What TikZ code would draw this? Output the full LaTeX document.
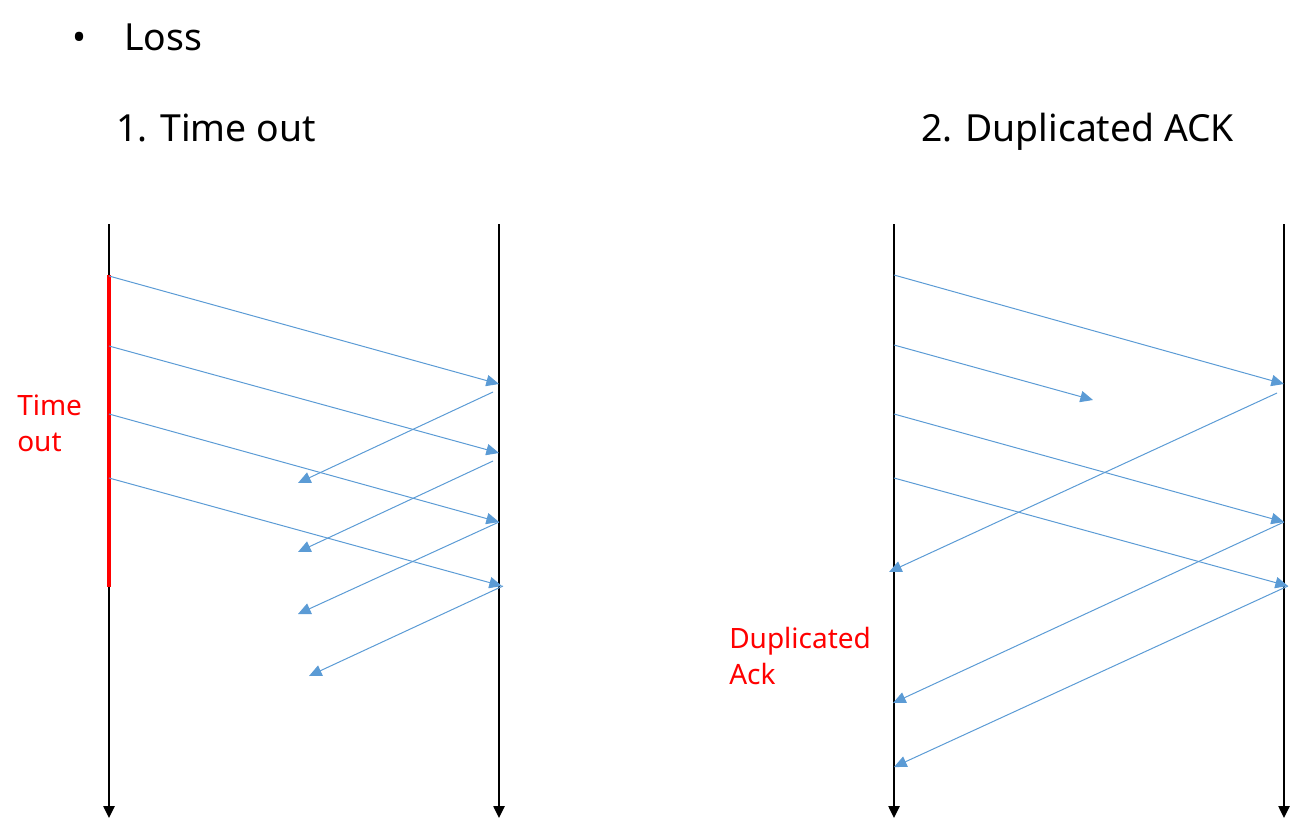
\documentclass[tikz,border=0pt]{standalone}
\usepackage{fontspec}
\setmainfont{Noto Sans}
\usetikzlibrary{arrows.meta}
\definecolor{msgblue}{HTML}{5B9BD5}
\definecolor{notered}{HTML}{FF0000}
\tikzset{
  timeline/.style={line width=1.1pt, black, -{Triangle[length=9pt,width=8.5pt]}},
  msg/.style={line width=0.75pt, msgblue, -{Triangle[length=9.5pt,width=8.5pt]}},
  title/.style={anchor=base west, inner sep=0pt, font=\fontsize{28pt}{34pt}\selectfont},
  note/.style={anchor=base west, inner sep=0pt, align=left, text=notered, font=\fontsize{21pt}{26.3pt}\selectfont},
}
\begin{document}
\begin{tikzpicture}[x=0.75pt, y=-0.75pt]
\useasboundingbox (0,0) rectangle (1298,832);
% titles
\node[title] (bullet) at (72,50) {•};
\node[title] (loss) at (124,50) {Loss};
\node[title] (t1) at (116,141) {1. Time out};
\node[title] (t2) at (921,141) {2. Duplicated ACK};
% left diagram timelines
\coordinate (LsTop) at (109,224); \coordinate (LsBot) at (109,818);
\coordinate (LrTop) at (499,224); \coordinate (LrBot) at (499,818);
\draw[timeline] (LsTop) -- (LsBot);
\draw[timeline] (LrTop) -- (LrBot);
% timeout bar
\coordinate (toA) at (109,275); \coordinate (toB) at (109,587);
\draw[notered, line width=3.6pt] (toA) -- (toB);
\node[note] (tolabel) at (17,451) {Time\\out};
% left forward
\coordinate (ls1) at (109,276); \coordinate (lr1) at (499,384);
\coordinate (ls2) at (109,346); \coordinate (lr2) at (499,453);
\coordinate (ls3) at (109,414); \coordinate (lr3) at (499,522);
\coordinate (ls4) at (109,478); \coordinate (lr4) at (502,586);
\draw[msg] (ls1) -- (lr1);
\draw[msg] (ls2) -- (lr2);
\draw[msg] (ls3) -- (lr3);
\draw[msg] (ls4) -- (lr4);
% left returns
\coordinate (la1) at (493,392); \coordinate (lb1) at (298,483);
\coordinate (la2) at (493,461); \coordinate (lb2) at (298,552);
\coordinate (la3) at (499,522); \coordinate (lb3) at (298,614);
\coordinate (la4) at (503,586); \coordinate (lb4) at (309,676);
\draw[msg] (la1) -- (lb1);
\draw[msg] (la2) -- (lb2);
\draw[msg] (la3) -- (lb3);
\draw[msg] (la4) -- (lb4);
% right diagram timelines
\coordinate (RsTop) at (894,224); \coordinate (RsBot) at (894,818);
\coordinate (RrTop) at (1284,224); \coordinate (RrBot) at (1284,818);
\draw[timeline] (RsTop) -- (RsBot);
\draw[timeline] (RrTop) -- (RrBot);
% right forward
\coordinate (rs1) at (894,275); \coordinate (rr1) at (1284,384);
\coordinate (rs2) at (894,345); \coordinate (rr2) at (1093,400);
\coordinate (rs3) at (894,414); \coordinate (rr3) at (1284,522);
\coordinate (rs4) at (894,478); \coordinate (rr4) at (1288,586);
\draw[msg] (rs1) -- (rr1);
\draw[msg] (rs2) -- (rr2);
\draw[msg] (rs3) -- (rr3);
\draw[msg] (rs4) -- (rr4);
% right returns
\coordinate (ra1) at (1277,393); \coordinate (rb1) at (889,572);
\coordinate (ra2) at (1284,522); \coordinate (rb2) at (893,703);
\coordinate (ra3) at (1288,586); \coordinate (rb3) at (894,767);
\draw[msg] (ra1) -- (rb1);
\draw[msg] (ra2) -- (rb2);
\draw[msg] (ra3) -- (rb3);
\node[note] (duplabel) at (729,684) {Duplicated\\Ack};
\end{tikzpicture}
\end{document}
